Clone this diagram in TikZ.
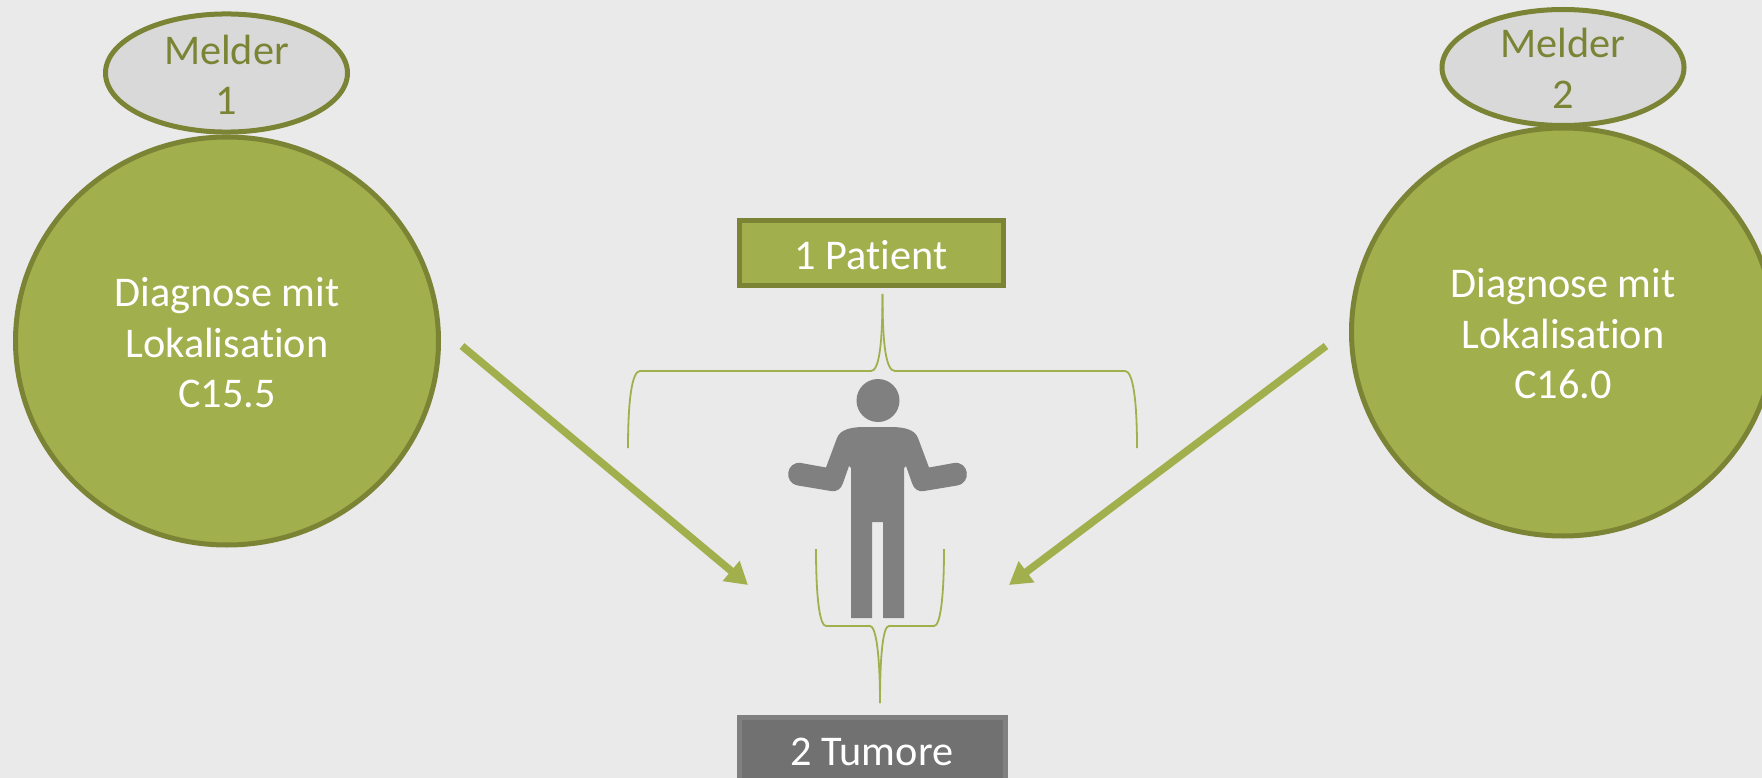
\documentclass[tikz,border=0pt]{standalone}
\usepackage{fontspec}
\setmainfont[RawFeature={-liga}]{Carlito}
\usetikzlibrary{shapes.geometric,arrows.meta}
\definecolor{bgc}{HTML}{EAEAEA}
\definecolor{grn}{HTML}{A2AF4D}
\definecolor{dgrn}{HTML}{7B8435}
\definecolor{lgr}{HTML}{D9D9D9}
\definecolor{pers}{HTML}{808080}
\definecolor{tfill}{HTML}{717171}
\definecolor{tline}{HTML}{808080}
\newcommand{\upstrut}[1]{\rule{0pt}{#1pt}}
\tikzset{
  txt/.style={font=\fontsize{42.3}{50.5}\selectfont,align=center},
  bigell/.style={ellipse,draw=dgrn,fill=grn,line width=5pt,minimum width=423pt,minimum height=408pt,inner sep=0pt,outer sep=0pt,text=white,txt},
  smallell/.style={ellipse,draw=dgrn,fill=lgr,line width=5pt,minimum width=242pt,minimum height=116pt,inner sep=0pt,outer sep=0pt,text=dgrn,txt},
  patbox/.style={rectangle,draw=dgrn,fill=grn,line width=5pt,minimum width=264pt,minimum height=64pt,inner sep=0pt,text=white,txt},
  tumbox/.style={rectangle,draw=tline,fill=tfill,line width=5pt,minimum width=266pt,minimum height=64pt,inner sep=0pt,text=white,txt},
  bigarrow/.style={draw=grn,line width=7.5pt,-{Triangle[length=22pt,width=25pt]},shorten >=0pt},
  bracel/.style={draw=grn,line width=1.8pt}
}
\begin{document}
\begin{tikzpicture}[x=1pt,y=-1pt]
\useasboundingbox (0,0) rectangle (1762,778);
\clip (0,0) rectangle (1762,778);
\fill[bgc] (0,0) rectangle (1762,778);
% circles
\node[smallell] (m1) at (226.5,73) {\upstrut{33}Melder\\1};
\node[smallell] (m2) at (1563,67.5) {\upstrut{31}Melder\\2};
\node[bigell] (d1) at (227,341) {\upstrut{33}Diagnose mit\\Lokalisation\\C15.5};
\node[bigell] (d2) at (1563,332) {\upstrut{33}Diagnose mit\\Lokalisation\\C16.0};
% boxes
\node[patbox] (pat) at (871,253) {\upstrut{33}1 Patient};
\node[tumbox] (tum) at (872,749) {\upstrut{33}2 Tumore};
% arrows
\coordinate (a1s) at (462,346);
\coordinate (a1e) at (748,585);
\coordinate (a2s) at (1326,346);
\coordinate (a2e) at (1009,585);
\draw[bigarrow] (a1s) -- (a1e);
\draw[bigarrow] (a2s) -- (a2e);
% top brace
\coordinate (tt) at (882.5,294);
\coordinate (tl) at (628,448);
\coordinate (tr) at (1137,448);
\draw[bracel] (tt) .. controls (882.5,345) and (879,371) .. (871,371) -- (640,371) .. controls (632,371) and (628,400) .. (tl);
\draw[bracel] (tt) .. controls (882.5,345) and (886,371) .. (895,371) -- (1125,371) .. controls (1133,371) and (1137,400) .. (tr);
% bottom brace
\coordinate (bt) at (880,703);
\coordinate (bl) at (816,549);
\coordinate (br) at (944,549);
\draw[bracel] (bt) .. controls (880,655) and (876,626) .. (870,626) -- (826,626) .. controls (820,626) and (816,600) .. (bl);
\draw[bracel] (bt) .. controls (880,655) and (883,626) .. (889,626) -- (934,626) .. controls (940,626) and (944,600) .. (br);
% person
\fill[pers] (878,400.5) circle[radius=21.5];
\fill[pers] (851,618) -- (851,468) -- (849,466) -- (843,483)
  .. controls (841,489) and (837,492) .. (831,491)
  -- (798,485.5) .. controls (783,483) and (786,461) .. (801,463)
  -- (826,467.5) -- (837,438)
  .. controls (840,430) and (850,427) .. (864,427)
  -- (891,427)
  .. controls (905,427) and (915,430) .. (918,438)
  -- (929,467.5) -- (954,463)
  .. controls (969,461) and (972,483) .. (957,485.5)
  -- (924,491) .. controls (918,492) and (914,489) .. (912,483)
  -- (906,466) -- (904,468) -- (904,618) -- (883,618) -- (883,522) -- (872,522) -- (872,618) -- cycle;
\end{tikzpicture}
\end{document}
